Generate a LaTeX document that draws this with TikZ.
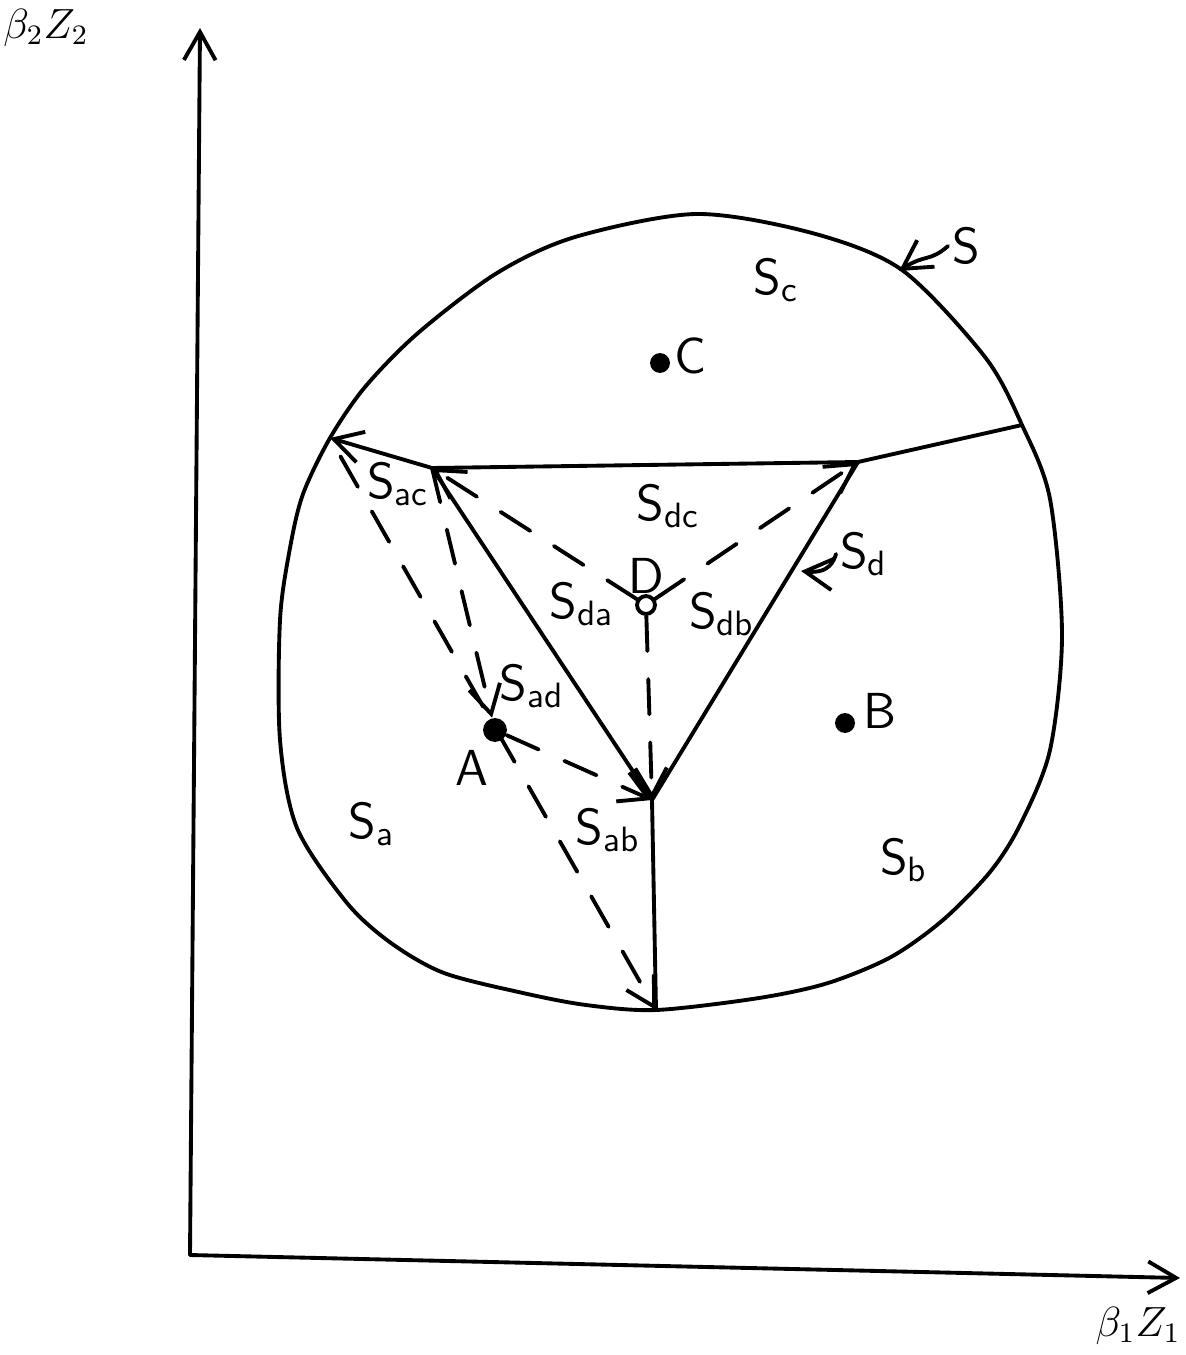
\documentclass[tikz,border=0pt]{standalone}
\usetikzlibrary{arrows.meta}
\tikzset{
  hand/.style={line width=1.1pt, line cap=round, line join=round},
  brk/.style={hand, dash pattern=on 10pt off 8pt},
  tip/.style={-{Straight Barb[length=8pt,width=9pt,line width=1.1pt]}},
  region/.style={font=\sffamily\Large, inner sep=1pt},
  dotn/.style={circle, fill, inner sep=2pt},
  axlab/.style={font=\large},
}
\newcommand{\reg}[1]{S\textsubscript{#1}}
\begin{document}
\begin{tikzpicture}[x=0.01cm, y=-0.01cm]
  \useasboundingbox (0,0) rectangle (1185,1355);
  % axes
  \coordinate (O)  at (190,1255);
  \coordinate (Yt) at (200,28);
  \coordinate (Xt) at (1180,1278);
  \draw[hand,tip] (O) -- (Yt);
  \draw[hand,tip] (O) -- (Xt);
  \node[axlab] (ylab) at (46,28)     {$\beta_2 Z_2$};
  \node[axlab] (xlab) at (1138,1326) {$\beta_1 Z_1$};
  % boundary S
  \coordinate (L)  at (330,438);
  \coordinate (R)  at (1022,425);
  \coordinate (Bt) at (656,1010);
  \draw[hand] plot[smooth cycle, tension=0.5] coordinates {
    (330,438) (365,387) (418,333) (497,273) (575,237) (696,214) (812,233)
    (902,270) (985,357) (1022,425) (1050,499) (1062,635) (1050,750)
    (1020,825) (990,872) (943,920) (891,957) (828,983) (759,998) (656,1010)
    (586,1005) (523,993) (444,973) (391,943) (347,903) (297,828) (280,740)
    (280,620) (290,548) (303,494)};
  % vertices
  \coordinate (P) at (432,468);
  \coordinate (Q) at (858,462);
  \coordinate (J) at (652,800);
  \node[circle, draw, line width=1.1pt, inner sep=1.8pt] (D) at (646,605) {};
  \node[dotn, inner sep=2.4pt] (A) at (495,730) {};
  \node[dotn] (B) at (845,723) {};
  \node[dotn] (C) at (660,363) {};
  % solid boundaries
  \draw[hand,tip] (P) -- (L);
  \draw[hand] (P) -- (Q) -- (R);
  \draw[hand] (P) -- (J) -- (Q);
  \draw[hand] (J) -- (Bt);
  % dashed paths
  \draw[brk,tip] (D) -- (P);
  \draw[brk,tip] (D) -- (Q);
  \draw[brk,tip] (D) -- (J);
  \draw[brk,tip] (P) -- (A);
  \draw[brk,tip] (A) -- (J);
  \draw[brk,tip,shorten <=6pt] (L) -- (Bt);
  % labels
  \node[region] (Dl)  at (646,576) {D};
  \node[region] (Al)  at (472,768) {A};
  \node[region] (Bl)  at (880,711) {B};
  \node[region] (Cl)  at (690,356) {C};
  \node[region] (Sc)  at (776,280) {\reg{c}};
  \node[region] (Sac) at (398,484) {\reg{ac}};
  \node[region] (Sdc) at (668,506) {\reg{dc}};
  \node[region] (Sda) at (582,604) {\reg{da}};
  \node[region] (Sdb) at (722,614) {\reg{db}};
  \node[region] (Sad) at (532,686) {\reg{ad}};
  \node[region] (Sa)  at (372,824) {\reg{a}};
  \node[region] (Sab) at (608,830) {\reg{ab}};
  \node[region] (Sb)  at (904,860) {\reg{b}};
  \node[region] (Sd)  at (864,554) {\reg{d}};
  \node[region] (S)   at (966,246) {S};
  % pointers
  \coordinate (Stip)  at (899,271);
  \coordinate (Sdtip) at (801,571);
  \draw[hand,tip] (S.west) .. controls (930,262) and (925,254) .. (Stip);
  \draw[hand,tip] (Sd.west) .. controls (834,560) and (830,574) .. (Sdtip);
\end{tikzpicture}
\end{document}
